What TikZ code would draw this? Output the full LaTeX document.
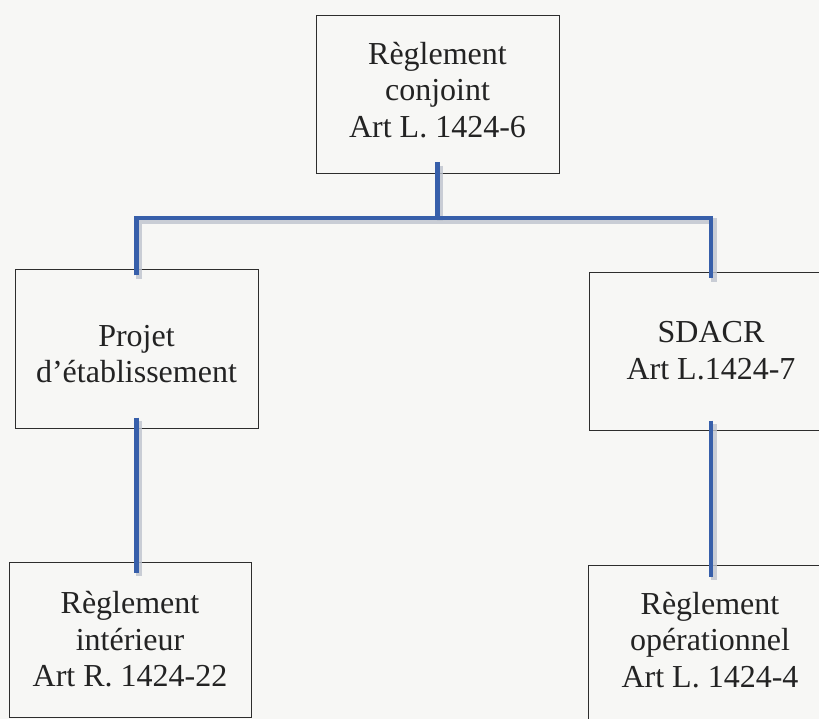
\documentclass[tikz,border=0pt]{standalone}
\usepackage{fontspec}
\setmainfont{Liberation Serif}
\definecolor{paper}{RGB}{247,247,245}
\definecolor{connblue}{RGB}{55,95,170}
\definecolor{shade}{RGB}{190,195,205}
\definecolor{edge}{RGB}{45,45,45}
\definecolor{ink}{RGB}{35,35,35}
\begin{document}
\begin{tikzpicture}[x=1pt,y=-1pt,
  box/.style={draw=edge, line width=1pt, minimum width=243pt, minimum height=158pt,
    inner sep=0pt},
  lbl/.style={inner sep=0pt, align=center, text=ink, font=\fontsize{32}{36.5}\selectfont},
  connline/.style={draw=connblue, line width=4.5pt, line cap=butt, line join=miter,
    preaction={draw=shade, line width=6pt, opacity=0.8,
      transform canvas={shift={(2.5pt,-3.5pt)}}}}]
\useasboundingbox (0,0) rectangle (819,719);
\fill[paper] (0,0) rectangle (819,719);
\clip (0,0) rectangle (819,719);

\node[box] (top) at (437.5,95) {};
\node[box] (left) at (136.5,349) {};
\node[box, minimum width=244pt, minimum height=157pt] (right) at (711,351.5) {};
\node[box, minimum width=242pt, minimum height=155pt] (botleft) at (130,639.5) {};
\node[box, minimum width=244pt, minimum height=158pt] (botright) at (710,644) {};

\node[lbl] (topt) at ([yshift=5pt]top.center) {Règlement\\conjoint\\Art L. 1424-6};
\node[lbl] (leftt) at ([yshift=-5pt]left.center) {Projet\\d’établissement};
\node[lbl] (rightt) at ([yshift=1pt]right.center) {SDACR\\Art L.1424-7};
\node[lbl] (botleftt) at (botleft.center) {Règlement\\intérieur\\Art R. 1424-22};
\node[lbl] (botrightt) at ([yshift=4pt]botright.center) {Règlement\\opérationnel\\Art L. 1424-4};

\coordinate (j) at (437,218);

\path[connline] ([yshift=12pt]top.south) -- (top.south |- j);
\path[connline] ([yshift=-6pt]left.north) -- (left.north |- j) -- (right.north |- j) -- ([yshift=-6pt]right.north);
\path[connline] ([yshift=11pt]left.south) -- ([yshift=-11pt]left.south |- botleft.north);
\path[connline] ([yshift=10pt]right.south) -- ([yshift=-12pt]right.south |- botright.north);
\end{tikzpicture}
\end{document}
